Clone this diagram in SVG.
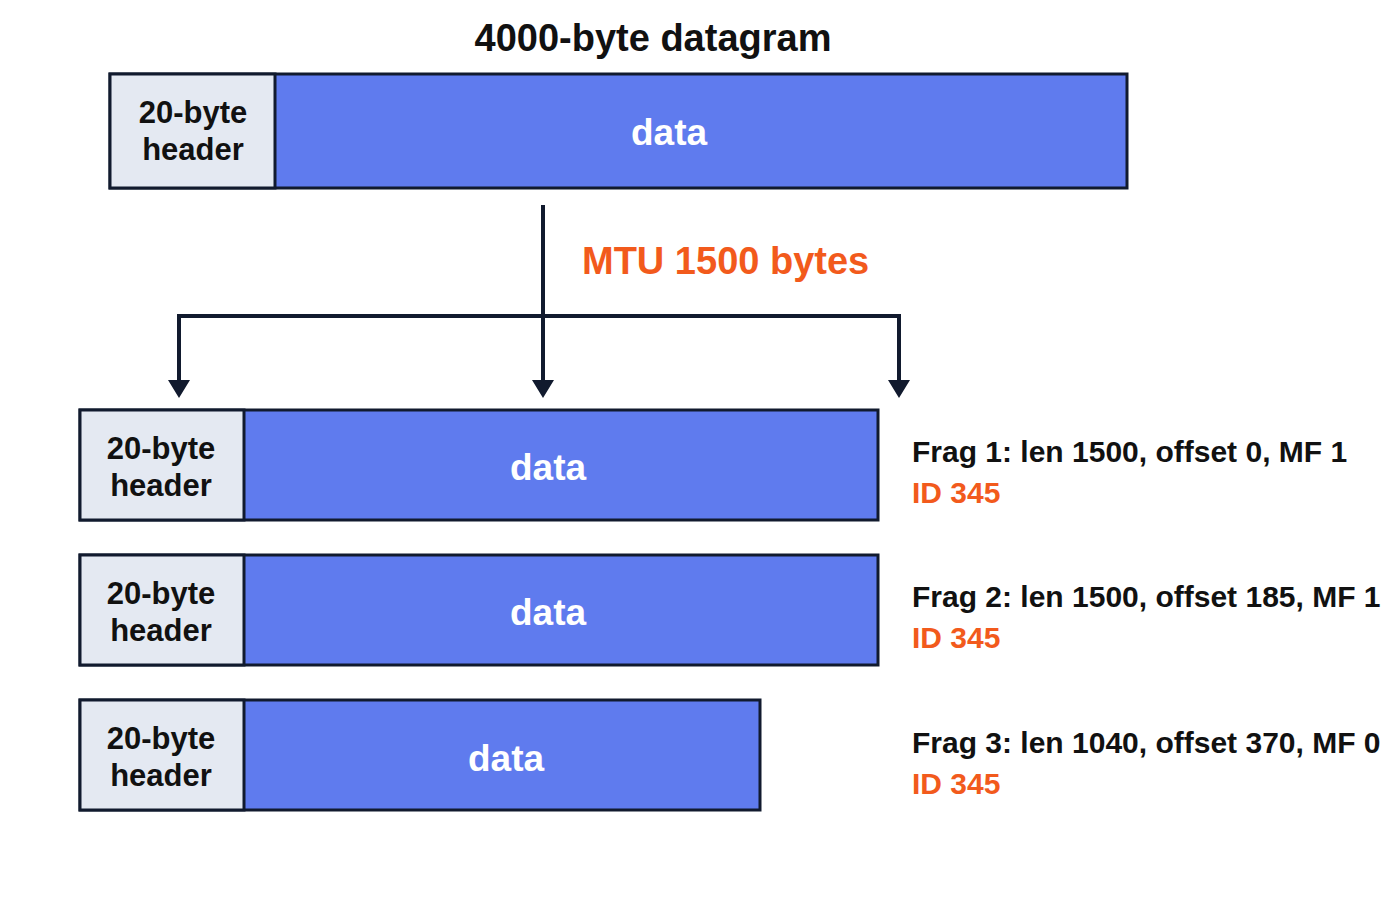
<svg xmlns="http://www.w3.org/2000/svg" width="1400" height="900" viewBox="0 0 1400 900">
<style>
.hdr{fill:#e4e9f2;stroke:#111a2e;stroke-width:3}
.dat{fill:#5f7bee;stroke:#111a2e;stroke-width:3}
.t{font-family:"Liberation Sans",Arial,sans-serif;font-weight:bold}
.ht{font-size:31px;fill:#111;text-anchor:middle}
.dt{font-size:37px;fill:#fff;text-anchor:middle}
.ft{font-size:30px;fill:#111}
.id{font-size:30px;fill:#f25a1c}
.ln{stroke:#111a2e;stroke-width:4;fill:none}
</style>
<defs><marker id="ah" viewBox="0 0 10 10" refX="10" refY="5" markerWidth="6" markerHeight="4.5" markerUnits="userSpaceOnUse" orient="auto" overflow="visible"><path d="M0,0L10,5L0,10z" fill="#111a2e" transform="scale(2.2)" /></marker></defs>
<rect width="1400" height="900" fill="#fff"/>
<text class="t" x="653" y="51" font-size="38" text-anchor="middle" fill="#111">4000-byte datagram</text>
<g id="orig">
<rect class="dat" x="110" y="74" width="1017" height="114"/>
<rect class="hdr" x="110" y="74" width="165" height="114"/>
<text class="t ht" x="193" y="123">20-byte</text><text class="t ht" x="193" y="160">header</text>
<text class="t dt" x="669" y="145">data</text>
</g>
<text class="t" x="582" y="274" font-size="38" fill="#f25a1c">MTU 1500 bytes</text>
<g id="connectors">
<path class="ln" d="M543,205V384"/>
<path class="ln" d="M179,384V316H899V384"/>
<path d="M168,380H190L179,398Z M532,380H554L543,398Z M888,380H910L899,398Z" fill="#111a2e"/>
</g>
<g id="frag1">
<rect class="dat" x="80" y="410" width="798" height="110"/>
<rect class="hdr" x="80" y="410" width="164" height="110"/>
<text class="t ht" x="161" y="459">20-byte</text><text class="t ht" x="161" y="496">header</text>
<text class="t dt" x="548" y="480">data</text>
<text class="t ft" x="912" y="462">Frag 1: len 1500, offset 0, MF 1</text>
<text class="t id" x="912" y="503">ID 345</text>
</g>
<g id="frag2">
<rect class="dat" x="80" y="555" width="798" height="110"/>
<rect class="hdr" x="80" y="555" width="164" height="110"/>
<text class="t ht" x="161" y="604">20-byte</text><text class="t ht" x="161" y="641">header</text>
<text class="t dt" x="548" y="625">data</text>
<text class="t ft" x="912" y="607">Frag 2: len 1500, offset 185, MF 1</text>
<text class="t id" x="912" y="648">ID 345</text>
</g>
<g id="frag3">
<rect class="dat" x="80" y="700" width="680" height="110"/>
<rect class="hdr" x="80" y="700" width="164" height="110"/>
<text class="t ht" x="161" y="749">20-byte</text><text class="t ht" x="161" y="786">header</text>
<text class="t dt" x="506" y="771">data</text>
<text class="t ft" x="912" y="753">Frag 3: len 1040, offset 370, MF 0</text>
<text class="t id" x="912" y="794">ID 345</text>
</g>
</svg>
